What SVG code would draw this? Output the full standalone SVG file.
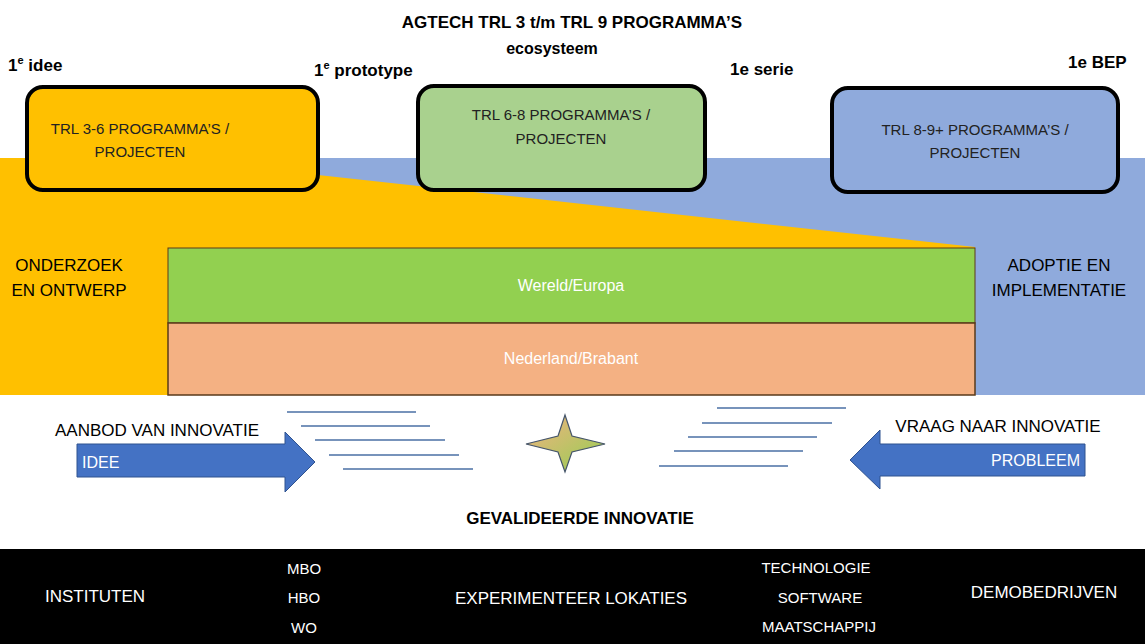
<svg xmlns="http://www.w3.org/2000/svg" width="1145" height="644" viewBox="0 0 1145 644">
<style>
text{font-family:"Liberation Sans",Arial,sans-serif;}
.b{font-weight:bold;font-size:17px;fill:#000}
.t{font-size:15px;fill:#222;text-anchor:middle}
.l{font-size:17px;fill:#000;text-anchor:middle}
.w{font-size:16px;fill:#fff;text-anchor:middle}
.box{stroke:#000;stroke-width:4}
.ln{stroke:#4a6fa5;stroke-width:1.3}
</style>
<defs>
<linearGradient id="g" x1="0" y1="0" x2="1" y2="1"><stop offset="0" stop-color="#f4b183"/><stop offset="1" stop-color="#92d050"/></linearGradient>
</defs>
<rect width="1145" height="644" fill="#fff"/>
<rect x="0" y="158" width="1145" height="237" fill="#8faadc"/>
<polygon points="0,158 318,158 318,175 975,247 975,395 0,395" fill="#ffc000"/>
<g id="world"><rect x="168" y="248" width="807" height="75" fill="#92d050" stroke="#5a3a1a" stroke-width="1"/><text class="w" x="571" y="291">Wereld/Europa</text></g>
<g id="nl"><rect x="168" y="323" width="807" height="72" fill="#f4b183" stroke="#5a3a1a" stroke-width="1.5"/><text class="w" x="571" y="364">Nederland/Brabant</text></g>
<text class="b" x="572" y="28" text-anchor="middle">AGTECH TRL 3 t/m TRL 9 PROGRAMMA’S</text>
<text x="552" y="54" text-anchor="middle" style="font-weight:bold;font-size:16px">ecosysteem</text>
<text class="b" x="8" y="71">1<tspan font-size="11" dy="-7">e</tspan><tspan dy="7"> idee</tspan></text>
<text class="b" x="314" y="76">1<tspan font-size="11" dy="-7">e</tspan><tspan dy="7"> prototype</tspan></text>
<text class="b" x="730" y="75">1e serie</text>
<text class="b" x="1068" y="68">1e BEP</text>
<g id="trl36"><rect class="box" x="27" y="87" width="291" height="103" rx="16" fill="#ffc000"/><text class="t" x="140" y="134">TRL 3-6 PROGRAMMA’S /</text><text class="t" x="140" y="157">PROJECTEN</text></g>
<g id="trl68"><rect class="box" x="418" y="86" width="287" height="104" rx="16" fill="#a9d18e"/><text class="t" x="561" y="120">TRL 6-8 PROGRAMMA’S /</text><text class="t" x="561" y="144">PROJECTEN</text></g>
<g id="trl89"><rect class="box" x="832" y="88" width="286" height="104" rx="16" fill="#8faadc"/><text class="t" x="975" y="135">TRL 8-9+ PROGRAMMA’S /</text><text class="t" x="975" y="158">PROJECTEN</text></g>
<text class="l" x="69" y="271">ONDERZOEK</text><text class="l" x="69" y="296">EN ONTWERP</text>
<text class="l" x="1059" y="271">ADOPTIE EN</text><text class="l" x="1059" y="296">IMPLEMENTATIE</text>
<text class="l" x="157" y="436">AANBOD VAN  INNOVATIE</text>
<text class="l" x="998" y="432">VRAAG NAAR INNOVATIE</text>
<g id="idee"><polygon points="77,444 285,444 285,432 315,462 285,492 285,477 77,477" fill="#4472c4" stroke="#2f528f"/><text x="82" y="468" style="font-size:16px;fill:#fff">IDEE</text></g>
<g id="probleem"><polygon points="1085,444 880,444 880,430 850,460 880,489 880,476 1085,476" fill="#4472c4" stroke="#2f528f"/><text x="1080" y="466" style="font-size:16px;fill:#fff" text-anchor="end">PROBLEEM</text></g>
<g id="connectors">
<line class="ln" x1="287" y1="412" x2="416" y2="412"/><line class="ln" x1="301" y1="426" x2="430" y2="426"/><line class="ln" x1="315" y1="440" x2="445" y2="440"/><line class="ln" x1="329" y1="455" x2="459" y2="455"/><line class="ln" x1="343" y1="469" x2="473" y2="469"/>
<line class="ln" x1="717" y1="408" x2="846" y2="408"/><line class="ln" x1="702" y1="423" x2="832" y2="423"/><line class="ln" x1="688" y1="437" x2="817" y2="437"/><line class="ln" x1="674" y1="451" x2="803" y2="451"/><line class="ln" x1="659" y1="466" x2="788" y2="466"/>
</g>
<g id="star"><polygon points="565,415 572,436 605,444 572,452 565,472 558,452 526,444 558,436" fill="url(#g)" stroke="#44546a" stroke-width="1.2"/></g>
<text class="b" x="580" y="524" text-anchor="middle">GEVALIDEERDE INNOVATIE</text>
<rect x="0" y="549" width="1145" height="95" fill="#000"/>
<g fill="#fff" style="font-size:17px">
<text x="95" y="602" text-anchor="middle" fill="#fff">INSTITUTEN</text>
<text x="304" y="574" text-anchor="middle" fill="#fff" style="font-size:15px">MBO</text>
<text x="304" y="603" text-anchor="middle" fill="#fff" style="font-size:15px">HBO</text>
<text x="304" y="633" text-anchor="middle" fill="#fff" style="font-size:15px">WO</text>
<text x="571" y="604" text-anchor="middle" fill="#fff">EXPERIMENTEER LOKATIES</text>
<text x="816" y="573" text-anchor="middle" fill="#fff" style="font-size:15px">TECHNOLOGIE</text>
<text x="820" y="603" text-anchor="middle" fill="#fff" style="font-size:15px">SOFTWARE</text>
<text x="819" y="632" text-anchor="middle" fill="#fff" style="font-size:15px">MAATSCHAPPIJ</text>
<text x="1044" y="598" text-anchor="middle" fill="#fff">DEMOBEDRIJVEN</text>
</g>
</svg>
